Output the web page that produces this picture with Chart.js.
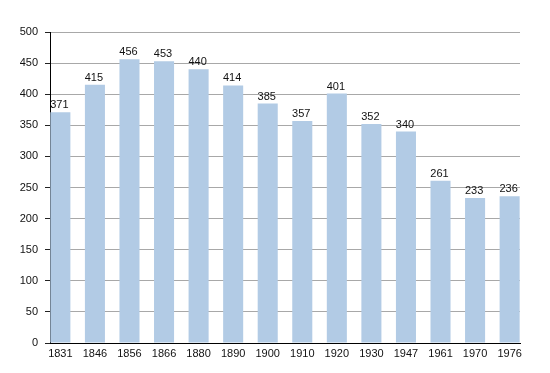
<!DOCTYPE html>
<html>
<head>
<meta charset="utf-8">
<script src="https://cdn.jsdelivr.net/npm/chart.js@4/dist/chart.umd.min.js"></script>
<style>
  html, body { margin: 0; padding: 0; background: #fff; }
  #wrap { width: 550px; height: 373px; }
</style>
</head>
<body>
<div id="wrap"><canvas id="myChart"></canvas></div>
<script>
'use strict';
/*------ Data ------*/
let years = ['1831', '1846', '1856', '1866', '1880', '1890', '1900', '1910', '1920', '1930', '1947', '1961', '1970', '1976'];
let population = [371, 415, 456, 453, 440, 414, 385, 357, 401, 352, 340, 261, 233, 236];
let yTicks = [0, 50, 100, 150, 200, 250, 300, 350, 400, 450, 500];

let points = [];
for (let i = 0; i < years.length; i++) {
  points.push({ x: i, y: population[i] });
}

/*------ Value labels above bars ------*/
const barLabels = {
  id: 'barLabels',
  afterDatasetsDraw(chart) {
    const ctx = chart.ctx;
    const meta = chart.getDatasetMeta(0);
    ctx.save();
    ctx.font = '11px "Liberation Sans", Arial, sans-serif';
    ctx.fillStyle = '#111';
    ctx.textAlign = 'center';
    ctx.textBaseline = 'alphabetic';
    meta.data.forEach(function (bar, i) {
      ctx.fillText(String(population[i]), bar.x - 1, bar.y - 4);
    });
    ctx.restore();
  }
};

const config = {
  type: 'bar',
  data: {
    datasets: [{
      data: points,
      backgroundColor: '#b2cbe5',
      borderWidth: 0,
      barPercentage: 0.58,
      categoryPercentage: 1
    }]
  },
  options: {
    responsive: true,
    maintainAspectRatio: false,
    animation: false,
    layout: { padding: { top: 32, right: 30, left: 0, bottom: 0 } },
    plugins: { legend: { display: false }, tooltip: { enabled: false } },
    scales: {
      x: {
        type: 'linear',
        offset: false,
        min: -0.3,
        max: 13.3,
        afterBuildTicks: function (scale) {
          scale.ticks = years.map(function (y, i) { return { value: i }; });
        },
        afterFit: function (scale) { scale.height = 30; },
        grid: { display: false, drawTicks: false },
        border: { color: '#000', width: 1 },
        ticks: {
          padding: 4,
          autoSkip: false,
          maxRotation: 0,
          color: '#111',
          font: { family: '"Liberation Sans", Arial, sans-serif', size: 11 },
          callback: function (value) { return years[value]; }
        }
      },
      y: {
        min: 0,
        max: 500,
        afterBuildTicks: function (scale) {
          let t = [];
          for (let v = 0; v <= 500; v += 25) t.push({ value: v });
          scale.ticks = t;
        },
        afterFit: function (scale) { scale.width = 50; },
        border: { color: '#000', width: 1 },
        grid: {
          color: function (c) {
            if (c.tick.value === 0) return 'rgba(0,0,0,0)';
            return yTicks.includes(c.tick.value) ? '#a8a8a8' : '#e2e2e2';
          },
          tickColor: '#222',
          tickLength: 5
        },
        ticks: {
          padding: 7,
          color: '#111',
          font: { family: '"Liberation Sans", Arial, sans-serif', size: 11 },
          callback: function (value) { return yTicks.includes(value) ? String(value) : ''; }
        }
      }
    }
  },
  plugins: [barLabels]
};

const myChart = new Chart(document.getElementById('myChart'), config);
</script>
</body>
</html>
